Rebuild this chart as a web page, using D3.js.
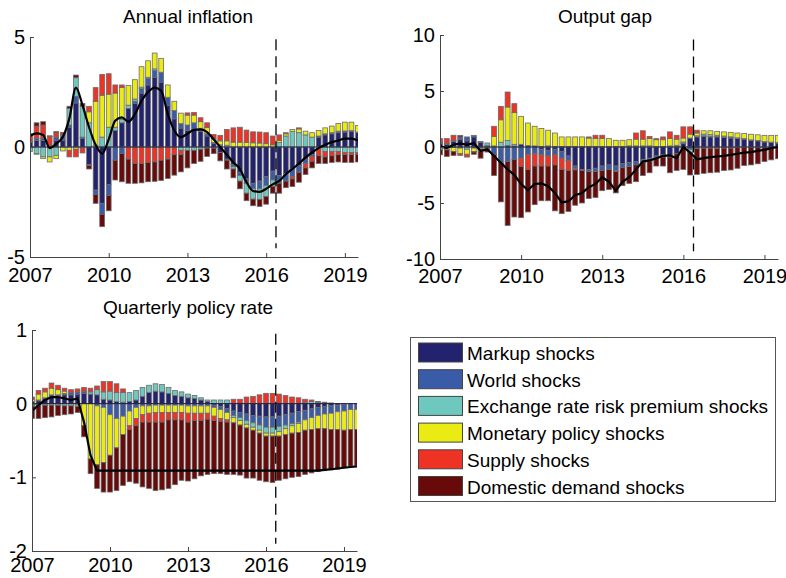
<!DOCTYPE html>
<html>
<head>
<meta charset="utf-8">
<script src="https://cdn.jsdelivr.net/npm/d3@7"></script>
<style>
  body { margin: 0; background: #fff; }
  text { font-family: "Liberation Sans", Arial, sans-serif; }
</style>
</head>
<body>
<div id="chart"></div>
<script>
// 1: DATA (quarterly, 2007Q1 .. 2019Q3)
const quarters = d3.range(51).map(i => 2007 + i / 4);
const shockKeys = ["markup", "world", "erp", "monetary", "supply", "demand"];
const shockNames = ["Markup shocks", "World shocks", "Exchange rate risk premium shocks",
  "Monetary policy shocks", "Supply shocks", "Domestic demand shocks"];
const shockColors = ["#22226e", "#3a5ca8", "#6ec8be", "#ebeb14", "#ee3224", "#690a0a"];
const xTicks = [2007, 2010, 2013, 2016, 2019];

// Annual inflation
const inflMarkup = [0.2, 0.3, 0.3, 0.05, 0.3, 0.3, 0.9, 2.0, 0.4, -0.8, -1.96, -2.56, -1.7, 0.75, 1.1, 1.75, 1.98, 2.45, 2.82, 3.17, 2.95, 1.88, 1.28, 0.86, 0.75, 0.8, 0.7, 0.5, 0.15, -0.25, -0.55, -0.8, -1.15, -1.45, -1.65, -1.55, -1.35, -1.1, -1.3, -1.2, -1.0, -0.85, -0.55, -0.35, 0.45, 0.55, 0.6, 0.65, 0.68, 0.7, 0.65];
const inflWorld = [0.05, 0.1, 0.1, 0.02, 0.15, 0.2, 0.1, 0.3, 0.05, -0.05, -0.2, -0.5, -0.5, -0.6, -0.3, 0, 0.1, 0.2, 0.3, 0.3, 0.45, 0.38, 0.38, 0.2, 0.25, 0.3, 0.15, 0.1, 0.05, 0.05, -0.05, -0.1, -0.15, -0.2, -0.25, -0.35, -0.4, -0.4, -0.35, -0.35, -0.35, -0.3, -0.2, -0.1, 0.05, 0.05, 0.05, 0.07, 0.05, 0.05, 0.03];
const inflErp = [-0.2, -0.3, -0.45, -0.45, -0.38, 0.05, 0.75, 0.85, 1.4, 1.1, 0.08, 0.45, 0.9, 0.15, 0.15, 0.15, 0.1, 0.07, 0.05, 0.08, 0, 0, 0, -0.15, -0.15, -0.15, -0.1, -0.05, -0.05, 0.05, 0.08, -0.1, -0.25, -0.45, -0.47, -0.48, -0.5, -0.3, 0.2, 0.5, 0.7, 0.65, 0.55, 0.45, -0.1, -0.2, -0.2, -0.2, -0.25, -0.25, -0.25];
const inflMonetary = [0, -0.03, -0.08, -0.23, -0.15, -0.18, -0.15, -0.1, -0.05, 0.5, 2.0, 1.9, 1.5, 1.55, 1.45, 0.9, 0.88, 0.93, 0.75, 0.72, 0.63, 0.56, 0.42, 0.48, 0.45, 0.35, 0.3, 0.28, 0.17, 0.18, 0.2, 0.22, 0.22, 0.2, 0.19, 0.18, 0.15, 0.1, 0.1, 0.1, 0.1, 0.17, 0.17, 0.2, 0.25, 0.27, 0.3, 0.35, 0.4, 0.38, 0.3];
const inflSupply = [0.3, 0.55, 0.6, 0.4, 0.2, 0.1, -0.3, -0.35, -0.22, 0.25, 0.62, 0.95, 0.93, 0.37, 0.12, -0.55, -0.75, -0.75, -0.7, -0.68, -0.6, -0.55, -0.35, -0.2, 0.1, 0.12, 0.18, 0.22, 0.2, 0.25, 0.52, 0.65, 0.68, 0.57, 0.5, 0.5, 0.5, 0.4, 0.25, 0.05, -0.1, 0.05, -0.2, -0.2, -0.3, -0.25, -0.2, -0.15, -0.1, -0.1, -0.08];
const inflDemand = [0.05, 0.15, 0.15, 0.04, 0.05, 0.01, 0.1, 0.12, 0.13, -0.15, -0.4, -0.56, -0.7, -0.9, -1.28, -1.1, -0.9, -0.88, -0.88, -0.88, -0.92, -0.88, -0.93, -0.78, -0.8, -0.6, -0.55, -0.38, -0.25, -0.38, -0.4, -0.4, -0.35, -0.34, -0.3, -0.32, -0.35, -0.3, -0.45, -0.3, -0.35, -0.45, -0.3, -0.3, -0.35, -0.3, -0.3, -0.33, -0.35, -0.35, -0.35];
const inflTotal = [0.5, 0.62, 0.55, -0.05, 0.15, 0.45, 1.3, 2.7, 1.9, 0.9, 0.1, -0.3, 0.35, 1.2, 1.35, 1.15, 1.5, 2.1, 2.5, 2.7, 2.55, 1.5, 0.75, 0.45, 0.6, 0.78, 0.8, 0.68, 0.35, 0.0, -0.35, -0.7, -1.0, -1.6, -2.0, -2.04, -1.9, -1.7, -1.54, -1.24, -1.0, -0.75, -0.48, -0.25, -0.05, 0.1, 0.22, 0.3, 0.38, 0.38, 0.3];
const inflTicks = [-5, 0, 5];

// Output gap
const gapMarkup = [0.3, 0.25, 0.5, 0.7, 0.55, 0.9, 0.4, 0.05, -0.05, -0.1, 0.14, 0.09, 0.24, 0.14, 0.1, -0.2, -0.3, -0.2, -0.4, -0.8, -1.7, -2.0, -2.0, -1.9, -1.7, -1.6, -1.7, -1.5, -1.4, -1.3, -1.1, -1.0, -0.8, -0.7, -0.8, -0.6, 0.3, 0.8, 0.9, 0.95, 0.9, 0.9, 0.85, 0.8, 0.75, 0.7, 0.6, 0.55, 0.45, 0.4, 0.35];
const gapWorld = [0.1, 0.05, 0.1, 0.2, 0.35, 0.14, 0.1, 0.1, -0.6, -1.3, -1.3, -1.1, -1.0, -0.7, -0.6, -0.5, -0.5, -0.5, -0.6, -0.4, -0.2, -0.1, -0.2, -0.3, -0.4, -0.4, -0.4, -0.35, -0.35, -0.3, -0.3, -0.25, -0.2, -0.2, -0.1, 0.05, 0.05, -0.2, -0.15, 0.05, 0.05, 0.05, 0.03, 0.03, 0.02, 0.02, 0.02, 0.02, 0.02, 0.02, 0.02];
const gapErp = [-0.1, -0.05, -0.05, -0.1, -0.2, -0.1, -0.1, 0.21, 0.1, 0.43, 0.45, 0.15, 0, 0, 0, 0.05, 0.1, 0.05, 0.05, 0.05, 0.05, 0.05, 0.05, 0.05, 0.05, 0.05, 0.05, 0.05, 0.1, 0.1, 0.1, 0.1, 0.05, 0.05, 0.1, 0.1, 0.1, -0.3, 0.1, 0.15, 0.15, 0.1, 0.1, 0.08, 0.05, 0.03, 0.02, 0.02, 0.02, 0.02, 0.02];
const gapMonetary = [-0.15, -0.2, -0.35, -0.5, -0.45, -0.3, -0.1, -0.05, 0.85, 2.0, 2.98, 2.83, 2.5, 2.0, 1.75, 1.6, 1.4, 1.2, 0.85, 0.85, 0.85, 0.85, 0.75, 0.7, 0.7, 0.7, 0.55, 0.55, 0.55, 0.6, 0.6, 0.65, 0.6, 0.6, 0.65, 0.55, 0.35, 0.35, 0.25, 0.3, 0.35, 0.35, 0.37, 0.4, 0.43, 0.45, 0.5, 0.5, 0.55, 0.6, 0.65];
const gapSupply = [0.35, 0.45, 0.45, -0.15, -0.25, -0.05, -0.2, -0.1, 0.9, 1.2, 1.34, 0.8, -0.75, -1.3, -1.1, -1.0, -0.9, -0.9, -1.0, -0.9, -0.15, 0, 0.1, 0.3, 0.3, 0, -0.1, 0, 0, 0.55, 0.75, 0.2, 0.1, 0.25, 0.6, 0.35, 1.0, 0.65, 0.25, -0.1, -0.1, -0.15, -0.1, -0.1, -0.05, -0.05, -0.05, -0.03, -0.03, 0, 0];
const gapDemand = [-0.45, -0.6, -0.35, 0.14, 0, -0.2, -0.6, -0.3, -1.9, -3.5, -5.7, -5.15, -4.56, -3.8, -3.45, -3.1, -3.1, -4.1, -3.95, -3.65, -3.15, -2.9, -2.4, -2.3, -1.8, -1.8, -1.9, -1.6, -1.5, -1.5, -1.15, -1.05, -0.7, -0.8, -1.4, -1.5, -2.0, -2.0, -2.3, -2.25, -2.2, -2.1, -2.0, -1.95, -1.85, -1.6, -1.55, -1.47, -1.27, -1.15, -1.05];
const gapTotal = [0.05, -0.1, 0.2, 0.33, 0.2, 0.35, -0.35, -0.2, -0.8, -1.4, -2.0, -2.5, -3.3, -3.85, -3.3, -3.25, -3.5, -4.1, -4.95, -4.85, -4.3, -4.1, -3.6, -3.3, -2.7, -3.1, -3.9, -3.1, -2.7, -2.0, -1.3, -1.2, -1.0, -0.8, -0.75, -1.0, 0.0, -0.5, -1.1, -1.0, -0.9, -0.85, -0.8, -0.7, -0.6, -0.5, -0.45, -0.35, -0.25, -0.1, 0.0];
const gapTicks = [-10, -5, 0, 5, 10];

// Quarterly policy rate
const rateMarkup = [0.03, 0.04, 0.07, 0.1, 0.1, 0.12, 0.12, 0.13, 0.14, 0.13, 0.12, 0.06, 0.05, 0.03, 0.02, 0.03, 0.05, 0.1, 0.15, 0.17, 0.16, 0.14, 0.11, 0.1, 0.08, 0.07, 0.05, 0.03, -0.02, -0.04, -0.07, -0.1, -0.12, -0.14, -0.16, -0.17, -0.18, -0.18, -0.17, -0.15, -0.13, -0.11, -0.09, -0.07, -0.05, -0.04, -0.03, -0.02, -0.01, 0, 0];
const rateWorld = [0, 0.01, 0.01, 0.02, 0.02, 0.02, 0.03, 0.03, 0.03, 0, -0.03, -0.05, -0.15, -0.2, -0.17, -0.1, -0.05, -0.03, -0.03, -0.02, -0.02, -0.02, -0.02, -0.02, -0.03, -0.03, -0.03, -0.03, -0.03, -0.04, -0.05, -0.06, -0.07, -0.09, -0.1, -0.12, -0.14, -0.14, -0.14, -0.14, -0.14, -0.14, -0.13, -0.12, -0.11, -0.1, -0.1, -0.09, -0.09, -0.08, -0.08];
const rateErp = [-0.03, -0.02, -0.02, -0.02, -0.02, -0.03, -0.03, -0.02, 0, 0.03, 0.07, 0.1, 0.12, 0.12, 0.13, 0.12, 0.13, 0.12, 0.1, 0.1, 0.1, 0.08, 0.07, 0.06, 0.05, 0.04, 0.03, 0.02, 0.05, 0.05, 0.05, -0.03, -0.04, -0.05, -0.06, -0.07, -0.08, -0.08, -0.07, -0.05, -0.03, -0.02, 0.02, 0.03, 0.02, 0.01, 0.01, 0, 0, 0, 0];
const rateMonetary = [0.03, 0.08, 0.08, 0.09, 0.07, 0.03, 0, -0.02, -0.3, -0.75, -0.8, -0.75, -0.55, -0.4, -0.25, -0.2, -0.15, -0.12, -0.1, -0.1, -0.1, -0.1, -0.1, -0.1, -0.1, -0.1, -0.1, -0.1, -0.12, -0.12, -0.1, -0.07, -0.06, -0.05, -0.04, -0.04, -0.04, -0.04, -0.06, -0.08, -0.1, -0.12, -0.14, -0.16, -0.18, -0.2, -0.22, -0.24, -0.26, -0.27, -0.27];
const rateSupply = [0.03, 0.05, 0.05, 0.07, 0.06, 0.04, 0.04, 0.04, 0.05, 0.05, 0.05, 0.14, 0.13, 0.12, 0.05, -0.05, -0.1, -0.1, -0.12, -0.13, -0.13, -0.1, -0.1, -0.1, -0.12, -0.1, -0.1, -0.08, -0.06, -0.04, -0.03, 0.06, 0.06, 0.09, 0.1, 0.12, 0.14, 0.14, 0.13, 0.11, 0.09, 0.08, 0.04, 0.02, 0.01, 0.01, 0, 0, 0, 0, 0];
const rateDemand = [-0.17, -0.18, -0.17, -0.16, -0.14, -0.12, -0.11, -0.08, -0.15, -0.2, -0.32, -0.4, -0.5, -0.58, -0.69, -0.71, -0.78, -0.88, -0.9, -0.93, -0.92, -0.93, -0.88, -0.82, -0.8, -0.79, -0.75, -0.75, -0.72, -0.71, -0.71, -0.7, -0.68, -0.68, -0.65, -0.64, -0.62, -0.63, -0.6, -0.6, -0.6, -0.6, -0.6, -0.59, -0.58, -0.57, -0.55, -0.54, -0.51, -0.5, -0.49];
const rateTotal = [-0.1, -0.02, 0.05, 0.09, 0.09, 0.07, 0.05, 0.07, -0.25, -0.7, -0.91, -0.91, -0.91, -0.91, -0.91, -0.91, -0.91, -0.91, -0.91, -0.91, -0.91, -0.91, -0.91, -0.91, -0.91, -0.91, -0.91, -0.91, -0.91, -0.91, -0.91, -0.91, -0.91, -0.91, -0.91, -0.91, -0.91, -0.91, -0.91, -0.91, -0.91, -0.91, -0.91, -0.91, -0.91, -0.9, -0.89, -0.88, -0.87, -0.86, -0.85];
const rateTicks = [-2, -1, 0, 1];

// forecast start marker
const forecastStart = 2016.375;

// 2: PANEL LAYOUT
const panels = [
  { title: "Annual inflation", titleX: 188, titleY: 23,
    left: 30, right: 358, top: 37, bottom: 257, yDomain: [-5, 5], yTicks: inflTicks,
    series: [inflMarkup, inflWorld, inflErp, inflMonetary, inflSupply, inflDemand],
    total: inflTotal, dash: [4.9, -4.6], curve: d3.curveMonotoneX, xPad: 11 },
  { title: "Output gap", titleX: 605, titleY: 23,
    left: 440, right: 778, top: 35, bottom: 259, yDomain: [-10, 10], yTicks: gapTicks,
    series: [gapMarkup, gapWorld, gapErp, gapMonetary, gapSupply, gapDemand],
    total: gapTotal, dash: [9.6, -9.3], curve: d3.curveLinear, xPad: 10 },
  { title: "Quarterly policy rate", titleX: 188, titleY: 314,
    left: 32, right: 357, top: 330, bottom: 551, yDomain: [-2, 1], yTicks: rateTicks,
    series: [rateMarkup, rateWorld, rateErp, rateMonetary, rateSupply, rateDemand],
    total: rateTotal, dash: [0.95, -1.9], curve: d3.curveLinear, xPad: 7 }
];

const svg = d3.select("#chart")
  .append("svg")
  .attr("width", 786)
  .attr("height", 578)
  .style("display", "block");

// 3: DRAW EACH PANEL
panels.forEach((p, idx) => {
  const rows = quarters.map((q, i) => {
    const r = { q: q };
    shockKeys.forEach((k, j) => { r[k] = p.series[j][i]; });
    return r;
  });

  const stacked = d3.stack()
    .keys(shockKeys)
    .offset(d3.stackOffsetDiverging)(rows);

  const x = d3.scaleLinear().domain([2007, 2019.5]).range([p.left, p.right]);
  const y = d3.scaleLinear().domain(p.yDomain).range([p.bottom, p.top]);
  const barW = (x(2007.25) - x(2007)) * 0.73;

  const clipId = "clip" + idx;
  svg.append("clipPath").attr("id", clipId)
    .append("rect")
    .attr("x", p.left)
    .attr("y", p.top - 5)
    .attr("width", p.right - p.left)
    .attr("height", p.bottom - p.top + 10);

  const g = svg.append("g");
  const plot = g.append("g").attr("clip-path", `url(#${clipId})`);

  // stacked bars
  plot.selectAll("g.layer")
    .data(stacked)
    .join("g")
    .attr("class", "layer")
    .attr("fill", (d, i) => shockColors[i])
    .selectAll("rect")
    .data(d => d.filter(s => s[1] !== s[0]))
    .join("rect")
    .attr("x", d => x(d.data.q) - barW / 2)
    .attr("y", d => y(d[1]))
    .attr("width", barW)
    .attr("height", d => y(d[0]) - y(d[1]))
    .attr("stroke", "#6b6b6b")
    .attr("stroke-width", 0.8);

  // bar baseline
  plot.append("line")
    .attr("x1", p.left).attr("x2", p.right)
    .attr("y1", y(0)).attr("y2", y(0))
    .attr("stroke", "#1a1a3a")
    .attr("stroke-width", 1);

  // total line
  plot.append("path")
    .datum(p.total)
    .attr("d", d3.line()
      .x((d, i) => x(quarters[i]))
      .y(d => y(d))
      .curve(p.curve))
    .attr("fill", "none")
    .attr("stroke", "#000")
    .attr("stroke-width", 2.2);

  // forecast dashed line
  g.append("line")
    .attr("x1", x(forecastStart)).attr("x2", x(forecastStart))
    .attr("y1", y(p.dash[0])).attr("y2", y(p.dash[1]))
    .attr("stroke", "#000")
    .attr("stroke-width", 1.3)
    .attr("stroke-dasharray", "11,6");

  // axes
  const yAxis = g.append("g")
    .attr("transform", `translate(${p.left},0)`)
    .call(d3.axisLeft(y)
      .tickValues(p.yTicks)
      .tickFormat(d => String(d))
      .tickSizeInner(-4)
      .tickSizeOuter(0)
      .tickPadding(5));

  const xAxis = g.append("g")
    .attr("transform", `translate(0,${p.bottom})`)
    .call(d3.axisBottom(x)
      .tickValues(xTicks)
      .tickFormat(d => String(d))
      .tickSizeInner(-4)
      .tickSizeOuter(0)
      .tickPadding(p.xPad));

  [yAxis, xAxis].forEach(a => {
    a.attr("font-size", 20)
      .attr("font-family", '"Liberation Sans", Arial, sans-serif');
    a.select(".domain").attr("stroke", "#444");
    a.selectAll(".tick line").attr("stroke", "#444");
    a.selectAll(".tick text").attr("fill", "#000");
  });

  // title
  g.append("text")
    .attr("x", p.titleX)
    .attr("y", p.titleY)
    .attr("text-anchor", "middle")
    .attr("font-size", 19)
    .text(p.title);
});

// 4: LEGEND
const legend = svg.append("g");
legend.append("rect")
  .attr("x", 410.5).attr("y", 337.5)
  .attr("width", 365).attr("height", 164)
  .attr("fill", "#fff")
  .attr("stroke", "#555");

shockNames.forEach((name, i) => {
  const ty = 343 + i * 26.7;
  legend.append("rect")
    .attr("x", 418.5).attr("y", ty)
    .attr("width", 44).attr("height", 19)
    .attr("fill", shockColors[i])
    .attr("stroke", "#444");
  legend.append("text")
    .attr("x", 467)
    .attr("y", ty + 17)
    .attr("font-size", 19)
    .text(name);
});
</script>
</body>
</html>
